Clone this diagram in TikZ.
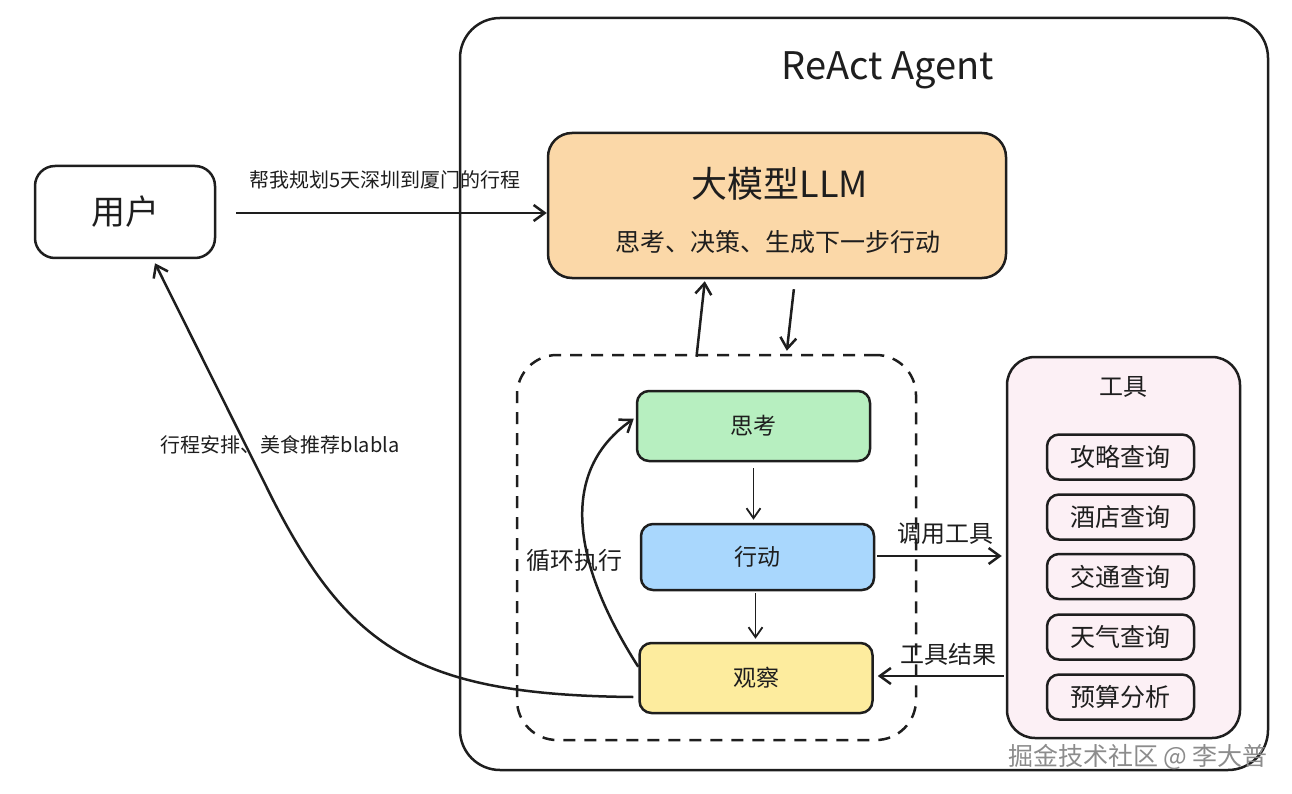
\documentclass[tikz,border=0pt]{standalone}
\usepackage{fontspec}
\setmainfont{Noto Sans CJK SC}
\usetikzlibrary{arrows.meta}
\definecolor{peach}{HTML}{FBD8A8}
\definecolor{mint}{HTML}{B7EFC0}
\definecolor{sky}{HTML}{A9D7FD}
\definecolor{lemon}{HTML}{FDEC9E}
\definecolor{blush}{HTML}{FCF0F5}
\definecolor{ink}{HTML}{1E1E1E}
\begin{document}
\begin{tikzpicture}[x=1pt,y=-1pt,
  box/.style={draw=ink,line width=2.5pt,rounded corners=16pt,inner sep=0pt,align=center,text=ink},
  step box/.style={box,rounded corners=12pt,minimum width=233pt,font=\fontsize{23}{27}\selectfont},
  tool/.style={box,rounded corners=12pt,minimum width=147pt,minimum height=45pt,font=\fontsize{25}{29}\selectfont},
  arr/.style={draw=ink,line width=2.5pt,-{Straight Barb[length=11pt,width=16pt,line width=2.5pt]}},
  thinarr/.style={draw=ink,line width=1.8pt,-{Straight Barb[length=10pt,width=14pt,line width=1.8pt]}},
  lbl/.style={text=ink,inner sep=0pt}]
\useasboundingbox (0,0) rectangle (1292,794);
% outer agent box
\node[box,rounded corners=40pt,minimum width=808pt,minimum height=752pt] (agent) at (864,394) {};
\node[lbl,font=\fontsize{38}{44}\selectfont] (title) at (888,70) {ReAct Agent};
% user
\node[box,rounded corners=20pt,minimum width=180pt,minimum height=92pt,font=\fontsize{34}{38}\selectfont] (user) at (125,212) {用户};
% LLM
\node[box,fill=peach,rounded corners=24pt,minimum width=458pt,minimum height=145pt] (llm) at (777,205.5) {};
\node[lbl,font=\fontsize{36}{40}\selectfont] (llmt) at (780,184) {大模型LLM};
\node[lbl,font=\fontsize{25}{29}\selectfont] (llms) at (778,242) {思考、决策、生成下一步行动};
% dashed loop box
\node[box,dashed,dash pattern=on 12pt off 9pt,rounded corners=40pt,minimum width=399pt,minimum height=385pt] (loop) at (716.5,547.5) {};
\node[step box,fill=mint,minimum height=70pt] (think) at (753.5,426) {思考};
\node[step box,fill=sky,minimum height=66pt] (act) at (757.5,557) {行动};
\node[step box,fill=lemon,minimum height=70pt] (obs) at (756,678) {观察};
% tools
\node[box,fill=blush,rounded corners=28pt,minimum width=233pt,minimum height=381pt] (tools) at (1123.5,547.5) {};
\node[lbl,font=\fontsize{24}{28}\selectfont] (toolst) at (1123,387) {工具};
\node[tool] (t1) at (1120.5,457) {攻略查询};
\node[tool] (t2) at (1120.5,517) {酒店查询};
\node[tool] (t3) at (1120.5,576.5) {交通查询};
\node[tool] (t4) at (1120.5,637) {天气查询};
\node[tool] (t5) at (1120.5,697) {预算分析};
% connectors
\draw[arr,shorten <=20pt] ([yshift=-1pt]user.east) -- ([yshift=-1pt]user.east -| llm.west);
\node[lbl,font=\fontsize{20}{24}\selectfont] (ask) at (385,180) {帮我规划5天深圳到厦门的行程};
\draw[arr,shorten >=2pt] ([xshift=-20pt,yshift=-3pt]loop.north) -- ([xshift=-72pt]llm.south);
\draw[arr,shorten <=10pt,shorten >=3pt] ([xshift=18pt]llm.south) -- ([xshift=70pt]loop.north);
\draw[thinarr,shorten <=6pt,shorten >=3pt] (think.south) -- (think.south |- act.north);
\draw[thinarr,shorten <=2pt,shorten >=3pt] ([xshift=-2pt]act.south) -- ([xshift=-2pt]act.south |- obs.north);
\coordinate (loopstart) at ([yshift=-25pt]obs.north west);
\coordinate (loopend) at ([yshift=-29pt,xshift=-2pt]think.north west);
\draw[arr] (loopstart) .. controls (570,560) and (560,470) .. (loopend);
\node[lbl,font=\fontsize{24}{28}\selectfont] (looplbl) at (574,560) {循环执行};
\draw[arr,shorten <=2pt,shorten >=4pt] ([yshift=1pt]act.east) -- ([yshift=1pt]act.east -| tools.west);
\node[lbl,font=\fontsize{24}{28}\selectfont] (calllbl) at (945,534) {调用工具};
\draw[arr,shorten <=2pt,shorten >=4pt] ([yshift=2pt]obs.east -| tools.west) -- ([yshift=2pt]obs.east);
\node[lbl,font=\fontsize{24}{28}\selectfont] (reslbl) at (948,654) {工具结果};
\coordinate (retmid) at (273,500);
\draw[arr] ([yshift=-19pt,xshift=-5pt]obs.west) .. controls (420,695) and (350,650) .. (retmid) -- ([xshift=30pt,yshift=-4pt]user.south);
\node[lbl,font=\fontsize{20}{24}\selectfont] (retlbl) at (280,445) {行程安排、美食推荐blabla};
% watermark
\node[lbl,text=black!45,font=\fontsize{25}{29}\selectfont] (wm) at (1138,757) {掘金技术社区 @ 李大普};
\end{tikzpicture}
\end{document}
